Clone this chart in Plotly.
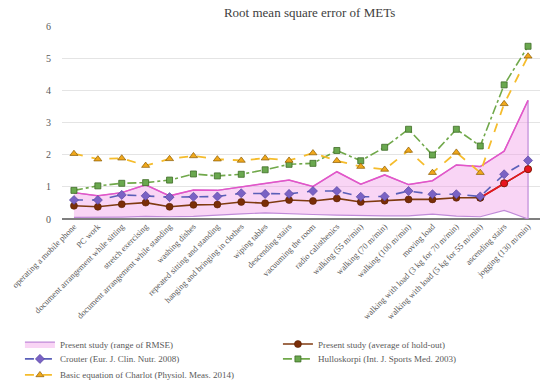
import plotly.graph_objects as go

categories = [
    "operating a mobile phone", "PC work", "document arrangement while sitting",
    "stretch exercising", "document arrangement while standing", "washing dishes",
    "repeated sitting and standing", "hanging and bringing in clothes", "wiping tables",
    "descending stairs", "vacuuming the room", "radio calisthenics",
    "walking (55 m/min)", "walking (70 m/min)", "walking (100 m/min)", "moving load",
    "walking with load (3 kg for 70 m/min)", "walking with load (5 kg for 55 m/min)",
    "ascending stairs", "jogging (130 m/min)",
]
range_upper = [0.82, 0.72, 0.82, 1.06, 0.72, 0.90, 0.89, 1.00, 1.11, 1.21,
               1.01, 1.47, 1.08, 1.37, 1.07, 1.19, 1.68, 1.63, 2.11, 3.69]
range_lower = [0.05, 0.05, 0.06, 0.08, 0.07, 0.08, 0.12, 0.16, 0.19, 0.17,
               0.14, 0.12, 0.10, 0.10, 0.10, 0.15, 0.09, 0.07, 0.27, 0.00]
average = [0.41, 0.38, 0.46, 0.51, 0.38, 0.44, 0.45, 0.53, 0.49, 0.59,
           0.56, 0.64, 0.53, 0.57, 0.61, 0.61, 0.66, 0.66, 1.11, 1.55]
crouter = [0.59, 0.59, 0.75, 0.72, 0.68, 0.69, 0.70, 0.80, 0.78, 0.78,
           0.87, 0.87, 0.69, 0.70, 0.87, 0.77, 0.77, 0.70, 1.39, 1.82]
hulloskorpi = [0.89, 1.03, 1.11, 1.13, 1.21, 1.40, 1.34, 1.39, 1.53, 1.70,
               1.73, 2.13, 1.81, 2.23, 2.79, 1.99, 2.79, 2.27, 4.17, 5.37]
charlot = [2.03, 1.86, 1.89, 1.66, 1.87, 1.96, 1.86, 1.82, 1.89, 1.82,
           2.05, 1.81, 1.63, 1.54, 2.13, 1.44, 2.07, 1.44, 3.58, 5.06]
y_ticks = [0, 1, 2, 3, 4, 5, 6]

SERIF = "Liberation Serif, DejaVu Serif, serif"
GRAY = "#595959"

fig = go.Figure()

# range polygon
fig.add_trace(go.Scatter(
    x=categories + categories[::-1], y=range_upper + range_lower[::-1],
    fill="toself", fillcolor="rgba(240,150,230,0.40)",
    line=dict(color="#c08ad8", width=1.2), mode="lines",
    name="Present study (range of RMSE)", hoverinfo="skip", legend="legend",
))
fig.add_trace(go.Scatter(
    x=categories, y=range_upper, mode="lines",
    line=dict(color="#e455c8", width=1.5), showlegend=False,
))

# average
n = len(categories)
avg_colors = ["#7a2e08"] * (n - 2) + ["#e8141e"] * 2
fig.add_trace(go.Scatter(
    x=categories, y=average, mode="lines+markers",
    line=dict(color="#7f3a10", width=1.6),
    marker=dict(symbol="circle", size=7, color=avg_colors,
                line=dict(color="#5a1e00", width=0.6)),
    name="Present study (average of hold-out)", legend="legend",
))
fig.add_trace(go.Scatter(
    x=categories[n - 3:], y=average[n - 3:], mode="lines+markers",
    line=dict(color="#e8141e", width=1.6),
    marker=dict(symbol="circle", size=7, color=avg_colors[n - 3:],
                line=dict(color="#5a1e00", width=0.6)),
    showlegend=False,
))

fig.add_trace(go.Scatter(
    x=categories, y=crouter, mode="lines+markers",
    line=dict(color="#5a5fb8", width=1.6, dash="dash"),
    marker=dict(symbol="diamond", size=7, color="#7a62c4",
                line=dict(color="#4b3c9a", width=0.6)),
    name="Crouter (Eur. J. Clin. Nutr. 2008)", legend="legend2",
))
fig.add_trace(go.Scatter(
    x=categories, y=hulloskorpi, mode="lines+markers",
    line=dict(color="#70a84a", width=1.6, dash="dashdot"),
    marker=dict(symbol="square", size=6, color="#6aa84f",
                line=dict(color="#3d6b26", width=0.8)),
    name="Hulloskorpi (Int. J. Sports Med. 2003)", legend="legend2",
))
fig.add_trace(go.Scatter(
    x=categories, y=charlot, mode="lines+markers",
    line=dict(color="#f5bc2c", width=1.8, dash="dash"),
    marker=dict(symbol="triangle-up", size=7, color="#f0a81c",
                line=dict(color="#8a5a00", width=0.7)),
    name="Basic equation of Charlot (Physiol. Meas. 2014)", legend="legend3",
))


def legend_row(yval):
    return dict(orientation="h", x=-0.088, y=yval, xanchor="left", yanchor="middle",
                entrywidth=213, entrywidthmode="pixels",
                font=dict(family=SERIF, size=9, color=GRAY),
                traceorder="normal", bgcolor="rgba(0,0,0,0)")


fig.update_layout(
    width=550, height=382,
    margin=dict(l=62, r=10, t=26, b=163, autoexpand=False),
    paper_bgcolor="white", plot_bgcolor="white",
    font=dict(family=SERIF, color=GRAY, size=9),
    title=dict(text="Root mean square error of METs", x=0.518, xref="paper",
               xanchor="center", y=0.968, yref="container", yanchor="middle",
               font=dict(family=SERIF, size=13, color="#404040")),
    showlegend=True,
    legend=legend_row(-0.648),
    legend2=legend_row(-0.725),
    legend3=legend_row(-0.808),
)
fig.update_xaxes(
    type="category", categoryorder="array", categoryarray=categories,
    range=[-0.5, n - 0.5], tickangle=-45, showgrid=False, automargin=False,
    showline=False, ticks="", tickfont=dict(family=SERIF, size=8.5, color=GRAY),
    zeroline=False,
)
fig.update_yaxes(
    range=[0, 6], tickvals=y_ticks, showgrid=True, gridcolor="#e4e4e4",
    gridwidth=1, zeroline=True, zerolinecolor="#7f7f7f", zerolinewidth=1.5,
    automargin=False,
    ticks="", tickfont=dict(family=SERIF, size=10, color=GRAY), ticklabelstandoff=10,
)

fig.write_html("out.html", config={"displayModeBar": False},
               post_script="document.body.style.margin='0';")
